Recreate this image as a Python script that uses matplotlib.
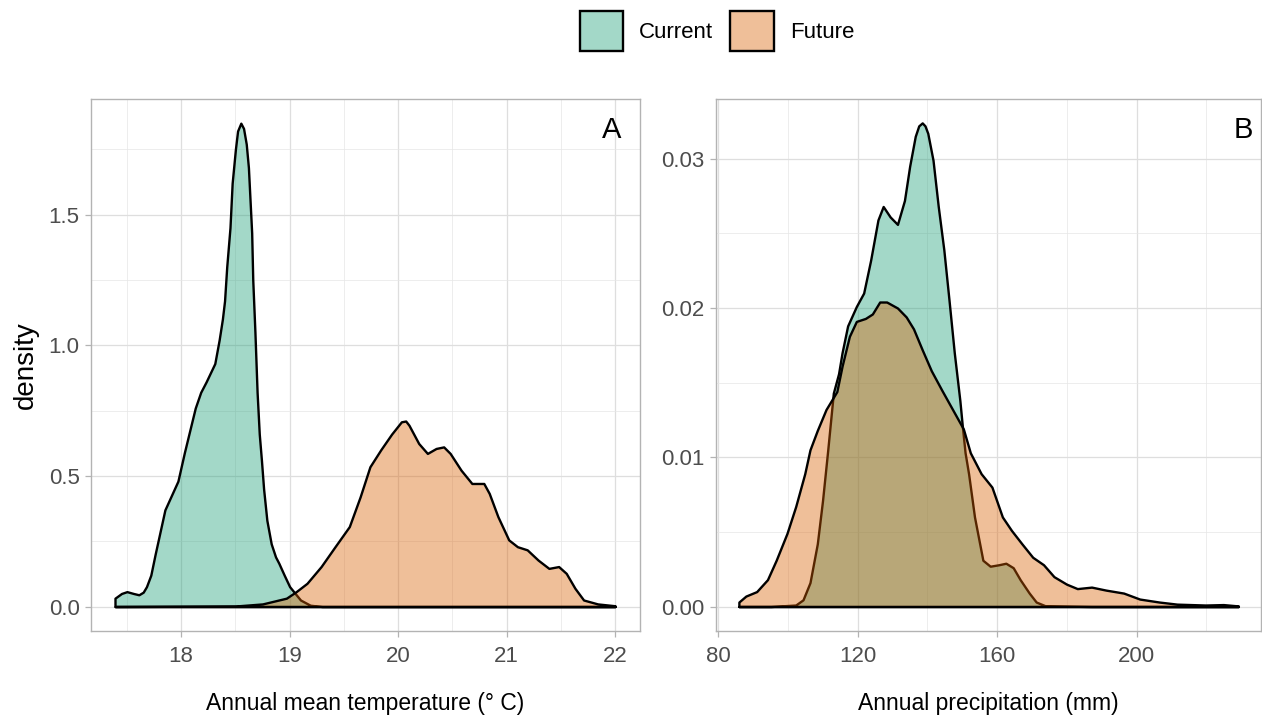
import matplotlib
matplotlib.use("Agg")
import matplotlib.pyplot as plt
from matplotlib.patches import Patch
from matplotlib.ticker import MultipleLocator, FormatStrFormatter

plt.rcParams['font.family'] = ['Liberation Sans', 'DejaVu Sans']

# density curves (x, density)
temp_current_x = [17.39, 17.45, 17.50, 17.56, 17.61, 17.65, 17.68, 17.72, 17.76, 17.85, 17.97,
                  18.03, 18.13, 18.18, 18.23, 18.31, 18.35, 18.38, 18.40, 18.42, 18.45, 18.47,
                  18.50, 18.52, 18.55, 18.575, 18.60, 18.62, 18.65, 18.66, 18.68, 18.70, 18.72,
                  18.74, 18.76, 18.79, 18.83, 18.87, 18.90, 18.95, 19.00, 19.10, 19.19, 19.30,
                  22.00]
temp_current_y = [0.032, 0.050, 0.057, 0.050, 0.045, 0.055, 0.076, 0.120, 0.200, 0.370, 0.480,
                  0.590, 0.760, 0.820, 0.860, 0.930, 1.020, 1.100, 1.170, 1.300, 1.450, 1.620,
                  1.750, 1.820, 1.850, 1.830, 1.770, 1.680, 1.430, 1.250, 1.050, 0.820, 0.660,
                  0.560, 0.450, 0.330, 0.240, 0.190, 0.166, 0.120, 0.076, 0.025, 0.005, 0.000,
                  0.000]

temp_future_x = [17.39, 18.50, 18.75, 18.97, 19.06, 19.16, 19.29, 19.42, 19.55, 19.65, 19.74,
                 19.84, 19.94, 20.03, 20.07, 20.10, 20.19, 20.27, 20.35, 20.42, 20.48, 20.58,
                 20.68, 20.79, 20.84, 20.92, 21.02, 21.10, 21.19, 21.29, 21.39, 21.48, 21.55,
                 21.63, 21.71, 21.84, 22.00]
temp_future_y = [0.000, 0.002, 0.010, 0.032, 0.057, 0.089, 0.153, 0.230, 0.306, 0.420, 0.535,
                 0.600, 0.660, 0.707, 0.710, 0.694, 0.624, 0.586, 0.605, 0.611, 0.586, 0.522,
                 0.471, 0.471, 0.433, 0.344, 0.255, 0.229, 0.217, 0.178, 0.146, 0.153, 0.127,
                 0.070, 0.025, 0.010, 0.003]

prec_current_x = [85.9, 95.1, 102.2, 104.3, 106.3, 108.4, 109.9, 111.4, 113.0, 114.5, 115.5,
                  117.1, 119.6, 121.7, 123.7, 125.8, 127.3, 129.3, 131.4, 133.4, 134.9, 136.5,
                  137.5, 138.5, 139.3, 140.1, 141.6, 143.1, 144.7, 146.2, 147.7, 149.3, 150.0,
                  150.8, 151.8, 153.5, 155.9, 158.0, 160.5, 162.5, 164.6, 166.6, 169.2, 171.2,
                  173.8, 187.1, 229.2]
prec_current_y = [0.0, 0.0, 0.0001, 0.00045, 0.0016, 0.0042, 0.0071, 0.0105, 0.0143, 0.0156,
                  0.0170, 0.0188, 0.0201, 0.0210, 0.0232, 0.0259, 0.0268, 0.0261, 0.0256,
                  0.0272, 0.0295, 0.0315, 0.0322, 0.0324, 0.0322, 0.0317, 0.0299, 0.0268,
                  0.0239, 0.0205, 0.0170, 0.0138, 0.0121, 0.0103, 0.0089, 0.0060, 0.0031,
                  0.0027, 0.0028, 0.0029, 0.0026, 0.0018, 0.0009, 0.0003, 0.00005, 0.0, 0.0]

prec_future_x = [85.9, 87.9, 91.0, 94.1, 96.6, 99.7, 102.2, 104.8, 106.3, 108.4, 110.9, 114.0,
                 115.5, 117.6, 119.6, 122.2, 124.2, 126.3, 128.3, 131.4, 133.9, 136.0, 138.5,
                 141.1, 144.1, 147.2, 150.3, 152.3, 155.4, 158.5, 161.5, 164.1, 167.1, 170.2,
                 173.3, 176.3, 179.9, 183.0, 187.1, 191.2, 196.3, 200.9, 206.5, 211.6, 219.8,
                 224.9, 229.2]
prec_future_y = [0.0003, 0.0007, 0.0010, 0.0018, 0.0031, 0.0049, 0.0067, 0.0089, 0.0105,
                 0.0118, 0.0132, 0.0144, 0.0161, 0.0181, 0.0191, 0.0193, 0.0196, 0.0204,
                 0.0204, 0.0200, 0.0194, 0.0186, 0.0172, 0.0158, 0.0145, 0.0132, 0.0119,
                 0.0103, 0.0089, 0.0080, 0.0060, 0.0051, 0.0042, 0.0033, 0.0028, 0.0020,
                 0.0015, 0.0012, 0.0013, 0.0011, 0.0009, 0.0005, 0.0003, 0.00016, 0.0001,
                 0.00013, 0.00004]

groups = ["Current", "Future"]
# Dark2 colours at alpha 0.4
fills = [(27/255, 158/255, 119/255, 0.4), (217/255, 95/255, 2/255, 0.4)]

W, H = 1262, 715
fig = plt.figure(figsize=(W/100, H/100), dpi=100)


def px_axes(left, right, top, bottom):
    return fig.add_axes([left/W, 1 - bottom/H, (right-left)/W, (bottom-top)/H])


def style(ax, xmaj, ymaj, yfmt):
    ax.set_facecolor("white")
    ax.xaxis.set_major_locator(MultipleLocator(xmaj))
    ax.xaxis.set_minor_locator(MultipleLocator(xmaj/2))
    ax.yaxis.set_major_locator(MultipleLocator(ymaj))
    ax.yaxis.set_minor_locator(MultipleLocator(ymaj/2))
    ax.yaxis.set_major_formatter(FormatStrFormatter(yfmt))
    ax.grid(which="major", color="#DEDEDE", linewidth=0.9)
    ax.grid(which="minor", color="#E6E6E6", linewidth=0.5)
    ax.set_axisbelow(True)
    for s in ax.spines.values():
        s.set_color("#B3B3B3")
        s.set_linewidth(1.0)
    ax.tick_params(which="major", length=4, width=0.9, color="#B3B3B3",
                   labelsize=16, labelcolor="#4D4D4D")
    ax.tick_params(axis="x", which="major", pad=7)
    ax.tick_params(axis="y", which="major", pad=4)
    ax.tick_params(which="minor", length=0)


def draw(ax, xs, ys):
    for x, y, fc in zip(xs, ys, fills):
        ax.fill_between(x, y, 0, facecolor=fc, edgecolor="black", linewidth=1.7,
                        joinstyle="round")


axA = px_axes(90.7, 640, 99, 630.7)
draw(axA, [temp_current_x, temp_future_x], [temp_current_y, temp_future_y])
axA.set_xlim(17.166, 22.23)
axA.set_ylim(-0.0925, 1.9425)
style(axA, 1, 0.5, "%.1f")
axA.set_xlabel("Annual mean temperature (° C)", fontsize=16.5, labelpad=18)
axA.set_ylabel("density", fontsize=20, labelpad=7)
axA.text(0.949, 0.942, "A", transform=axA.transAxes, fontsize=21, ha="center", va="center")

axB = px_axes(715.7, 1261, 99, 630.7)
draw(axB, [prec_current_x, prec_future_x], [prec_current_y, prec_future_y])
axB.set_xlim(79.25, 235.7)
axB.set_ylim(-0.00162, 0.0340)
style(axB, 40, 0.01, "%.2f")
axB.xaxis.set_minor_locator(MultipleLocator(20))
axB.set_xlabel("Annual precipitation (mm)", fontsize=16.5, labelpad=18)
axB.text(0.967, 0.942, "B", transform=axB.transAxes, fontsize=21, ha="center", va="center")

handles = [Patch(facecolor=fc, edgecolor="black", linewidth=1.7) for fc in fills]
fig.legend(handles, groups, loc="center", bbox_to_anchor=(717/W, 1 - 31/H), ncol=2,
           frameon=False, fontsize=16, handlelength=1.94, handleheight=2.38,
           handletextpad=0.73, columnspacing=0.77)

fig.savefig("out.png", dpi=100, facecolor="white")
